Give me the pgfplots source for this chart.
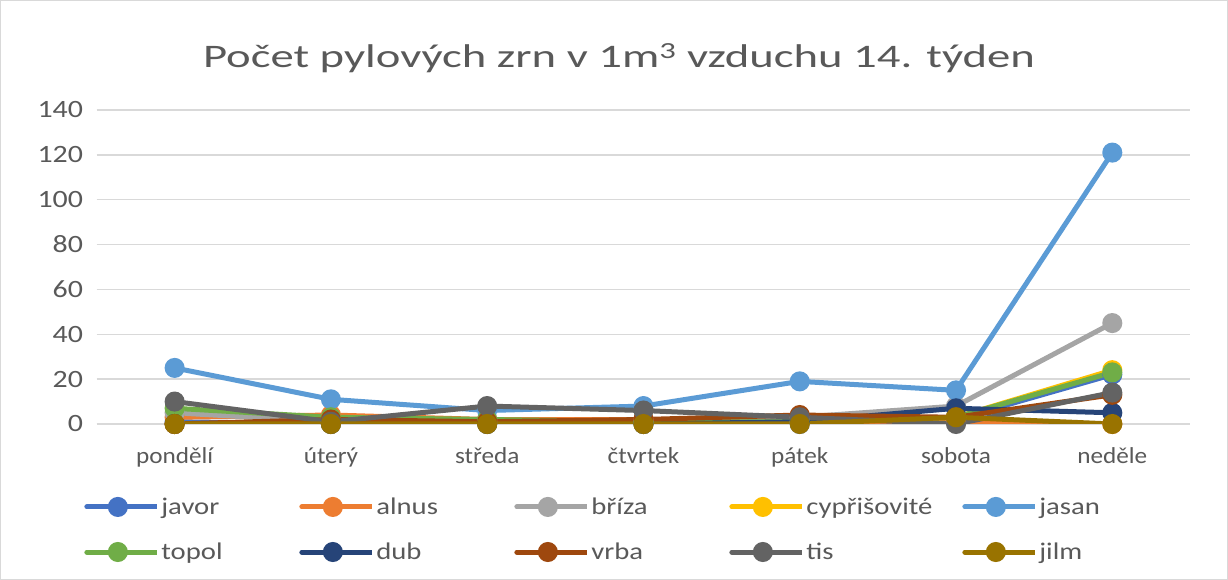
\documentclass[border=0pt]{standalone}
\usepackage{pgfplots}
\pgfplotsset{compat=1.18}
\usepackage{fontspec}
\setmainfont{Carlito}
\newfontfamily\wideA[FakeStretch=1.2]{Carlito}
\newfontfamily\wideB[FakeStretch=1.1]{Carlito}
\newfontfamily\wideT[FakeStretch=1.42]{Carlito}
\definecolor{cjavor}{HTML}{4472C4}
\definecolor{calnus}{HTML}{ED7D31}
\definecolor{cbriza}{HTML}{A5A5A5}
\definecolor{ccyp}{HTML}{FFC000}
\definecolor{cjasan}{HTML}{5B9BD5}
\definecolor{ctopol}{HTML}{70AD47}
\definecolor{cdub}{HTML}{264478}
\definecolor{cvrba}{HTML}{9E480E}
\definecolor{ctis}{HTML}{636363}
\definecolor{cjilm}{HTML}{997300}
\definecolor{txt}{HTML}{595959}
\definecolor{grd}{HTML}{D9D9D9}
\begin{document}
\begin{tikzpicture}[x=1bp,y=1bp]
\draw[grd, line width=1bp] (0.5,0.5) rectangle (1227.5,579.5);
\node[text=txt, font=\wideT\fontsize{33}{40}\selectfont] at (619,522) {Počet pylových zrn v 1m\textsuperscript{3} vzduchu 14. týden};
\begin{axis}[
  at={(96.5bp,156bp)}, anchor=south west,
  scale only axis, width=1094bp, height=314bp,
  xmin=-0.5, xmax=6.5, ymin=0, ymax=140,
  xtick={0,...,6},
  xticklabels={pondělí,úterý,středa,čtvrtek,pátek,sobota,neděle},
  ytick={0,20,...,140},
  major tick length=0pt,
  ymajorgrids, grid style={grd, line width=1.5bp},
  axis y line*=left, axis x line*=bottom,
  y axis line style={draw=none},
  x axis line style={grd, line width=1.5bp},
  tick label style={text=txt},
  /pgf/number format/assume math mode=true,
  xticklabel style={yshift=-20bp, font=\wideB\fontsize{23}{27}\selectfont},
  yticklabel style={xshift=-10bp, font=\wideA\fontsize{25}{29}\selectfont},
  every axis plot/.append style={line width=5bp, mark=*, mark size=7.5bp, mark options={solid}},
  legend columns=5,
  legend style={at={(-0.014,-0.222)}, anchor=north west, draw=none, fill=none,
    font=\wideA\fontsize{24}{28}\selectfont, text=txt,
    nodes={text width=136bp, align=left, inner xsep=2bp},
    row sep=23bp, column sep=0bp},
  legend image code/.code={
    \path (0bp,0bp) -- (70bp,0bp);
    \draw[line width=5bp, line cap=round] (0bp,0bp) -- (62bp,0bp);
    \fill (31bp,0bp) circle (7.5bp);
  },
]
\addplot[cjavor] coordinates {(0,1)(1,0)(2,0)(3,0)(4,0)(5,2)(6,22)};
\addlegendentry{javor}
\addplot[calnus] coordinates {(0,3)(1,4)(2,2)(3,2)(4,1)(5,1)(6,0)};
\addlegendentry{alnus}
\addplot[cbriza] coordinates {(0,5)(1,1)(2,1)(3,1)(4,3)(5,8)(6,45)};
\addlegendentry{bříza}
\addplot[ccyp] coordinates {(0,0)(1,0)(2,0)(3,0)(4,1)(5,3)(6,24)};
\addlegendentry[text width=154bp]{cypřišovité}
\addplot[cjasan] coordinates {(0,25)(1,11)(2,6)(3,8)(4,19)(5,15)(6,121)};
\addlegendentry{jasan}
\addplot[ctopol] coordinates {(0,7)(1,3)(2,2)(3,1)(4,1)(5,3)(6,23)};
\addlegendentry{topol}
\addplot[cdub] coordinates {(0,0)(1,0)(2,0)(3,0)(4,1)(5,7)(6,5)};
\addlegendentry{dub}
\addplot[cvrba] coordinates {(0,0)(1,2)(2,1)(3,2)(4,4)(5,3)(6,13)};
\addlegendentry{vrba}
\addplot[ctis] coordinates {(0,10)(1,1)(2,8)(3,6)(4,3)(5,0)(6,14)};
\addlegendentry[text width=154bp]{tis}
\addplot[cjilm] coordinates {(0,0)(1,0)(2,0)(3,0)(4,0)(5,3)(6,0)};
\addlegendentry{jilm}
\end{axis}
\end{tikzpicture}
\end{document}
